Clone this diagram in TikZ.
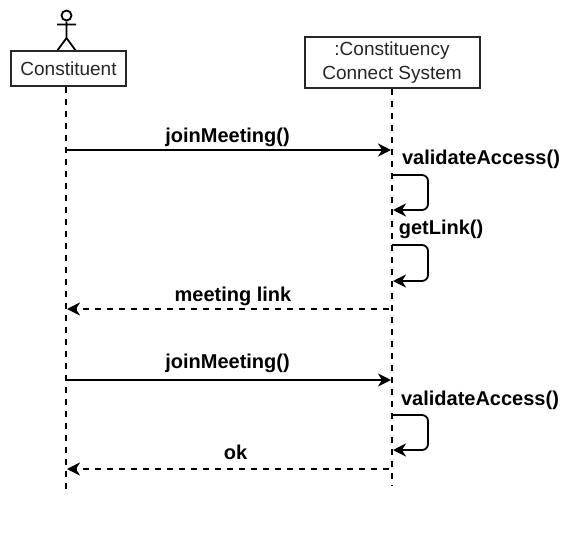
\documentclass[tikz,border=0pt]{standalone}
\usepackage{fontspec}
\setmainfont{Liberation Sans}
\usetikzlibrary{arrows.meta}
\tikzset{
 obox/.style={draw=black!85,line width=2pt,fill=white,align=center,font=\fontsize{19}{24}\selectfont,text=black!85,inner sep=0pt,minimum width=#1},
 life/.style={line width=2pt,dash pattern=on 6pt off 6pt,draw=black},
 msg/.style={line width=1.8pt,-{Stealth[length=13pt,width=13pt,inset=4pt]}},
 ret/.style={msg,dash pattern=on 6pt off 6pt},
 lbl/.style={font=\bfseries\fontsize{20}{24}\selectfont,inner sep=0pt,anchor=base},
 act/.style={line width=1.8pt,draw=black}
}
\begin{document}
\begin{tikzpicture}[x=1pt,y=-1pt]
\useasboundingbox (0,0) rectangle (578,535);
% actor
\node[draw,act,circle,minimum size=10pt,inner sep=0pt] (head) at (66.5,15.5) {};
\coordinate (hip) at (66.5,38);
\coordinate (armL) at (57,24.5);
\coordinate (armR) at (76,24.5);
\coordinate (legL) at (57,51);
\coordinate (legR) at (76,51);
\draw[act] (head.south) -- (hip) (armL) -- (armR) (legL) -- (hip) -- (legR);
% boxes
\node[obox=115pt,minimum height=35pt] (c) at (68.5,68.5) {Constituent};
\node[obox=175pt,minimum height=51pt] (s) at (392,62.5) {:Constituency\\Connect System};
% lifelines
\coordinate (cEnd) at (66,490);
\coordinate (sEnd) at (392,486);
\coordinate (c0) at (66,87);
\draw[life] (c0) -- (cEnd);
\draw[life] (s.south) -- (sEnd);
% anchor coordinates
\coordinate (c1) at (66,150); \coordinate (s1) at (391,150);
\coordinate (c2) at (67,309); \coordinate (s2) at (389,309);
\coordinate (c3) at (66,380); \coordinate (s3) at (391,380);
\coordinate (c4) at (67,469); \coordinate (s4) at (389,469);
\draw[msg] (c1) -- (s1);
\draw[ret] (s2) -- (c2);
\draw[msg] (c3) -- (s3);
\draw[ret] (s4) -- (c4);
% self loops
\coordinate (a1) at (392,175); \coordinate (a2) at (393,210);
\coordinate (b1) at (392,245); \coordinate (b2) at (393,281);
\coordinate (d1) at (392,415); \coordinate (d2) at (393,450);
\draw[msg,rounded corners=6pt] (a1) -- (428,175) -- (428,210) -- (a2);
\draw[msg,rounded corners=6pt] (b1) -- (428,245) -- (428,281) -- (b2);
\draw[msg,rounded corners=6pt] (d1) -- (428,415) -- (428,450) -- (d2);
% labels
\node[lbl] (l1) at (227.5,142) {joinMeeting()};
\node[lbl] (l2) at (481,164) {validateAccess()};
\node[lbl] (l3) at (441,234) {getLink()};
\node[lbl] (l4) at (233,301) {meeting link};
\node[lbl] (l5) at (227.5,368) {joinMeeting()};
\node[lbl] (l6) at (480,405) {validateAccess()};
\node[lbl] (l7) at (235.5,459) {ok};
\end{tikzpicture}
\end{document}
